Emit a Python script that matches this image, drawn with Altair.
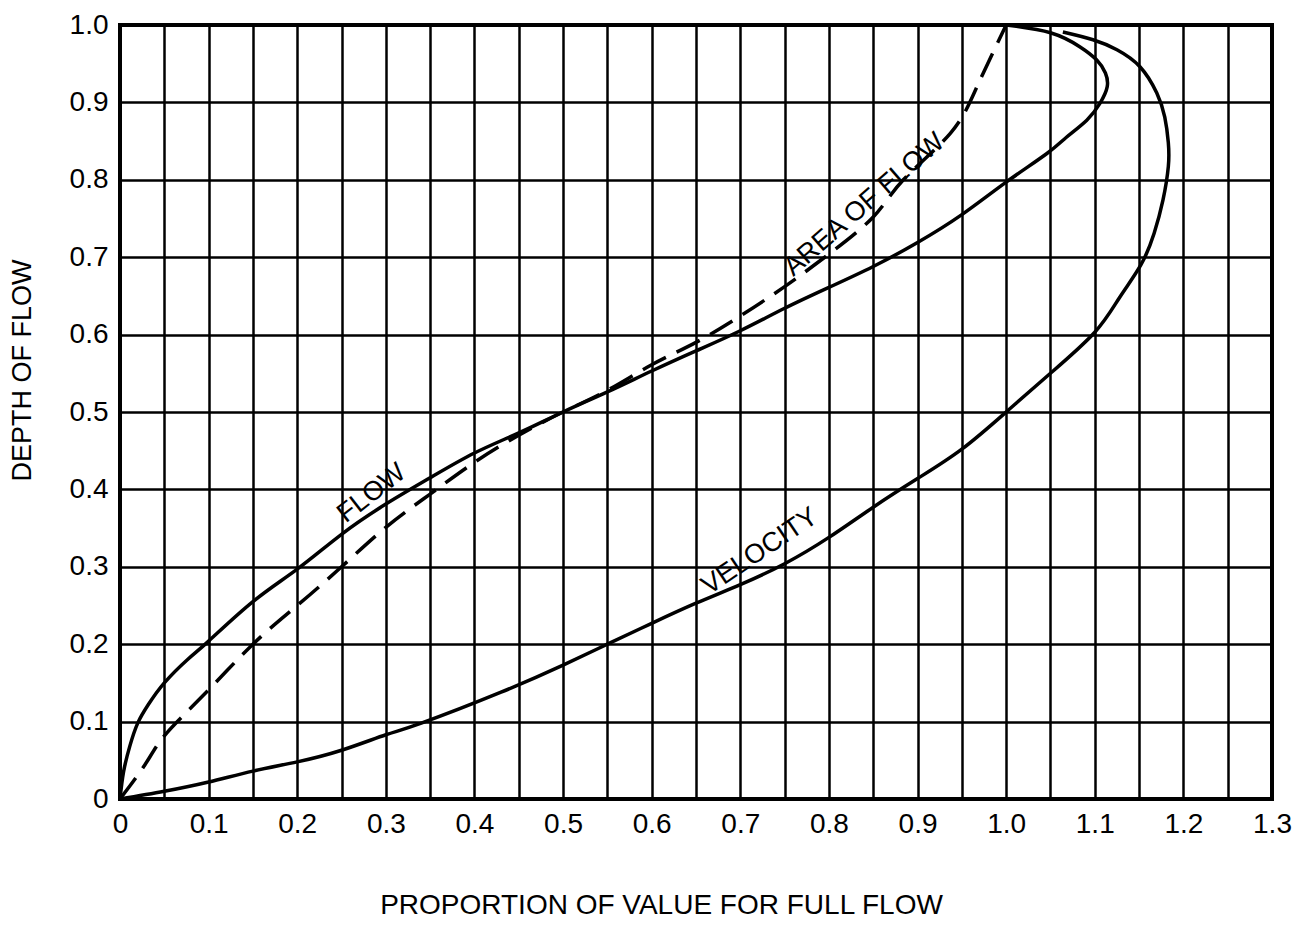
import altair as alt
import pandas as pd

# ---- data ----
vel_x = [0.0, 0.05, 0.10, 0.15, 0.20, 0.25, 0.30, 0.34, 0.43, 0.50, 0.55, 0.60, 0.65, 0.70,
         0.75, 0.80, 0.85, 0.90, 0.95, 1.00, 1.05, 1.10, 1.128, 1.152, 1.167, 1.177, 1.183,
         1.183, 1.179, 1.170, 1.151, 1.125, 1.098, 1.064]
vel_y = [0.0, 0.010, 0.022, 0.036, 0.048, 0.063, 0.083, 0.098, 0.138, 0.173, 0.200, 0.227, 0.253, 0.277,
         0.304, 0.338, 0.377, 0.414, 0.452, 0.500, 0.550, 0.603, 0.648, 0.690, 0.731, 0.774, 0.817,
         0.848, 0.881, 0.912, 0.946, 0.968, 0.981, 0.991]

flow_x = [0.0, 0.004, 0.011, 0.020, 0.032, 0.050, 0.076, 0.10, 0.15, 0.20, 0.25, 0.30, 0.35, 0.40,
          0.45, 0.50, 0.55, 0.60, 0.65, 0.70, 0.75, 0.80, 0.85, 0.90, 0.95, 1.00, 1.046, 1.068,
          1.091, 1.106, 1.114, 1.112, 1.102, 1.083, 1.05, 1.0]
flow_y = [0.0, 0.035, 0.068, 0.098, 0.122, 0.150, 0.180, 0.204, 0.255, 0.297, 0.342, 0.381, 0.415, 0.447,
          0.473, 0.500, 0.526, 0.553, 0.579, 0.605, 0.634, 0.661, 0.688, 0.719, 0.755, 0.797, 0.834, 0.855,
          0.877, 0.899, 0.920, 0.938, 0.955, 0.972, 0.990, 1.0]

area_x = [0.0, 0.028, 0.051, 0.094, 0.15, 0.20, 0.25, 0.30, 0.35, 0.40, 0.45, 0.50, 0.55, 0.60,
          0.65, 0.70, 0.75, 0.80, 0.85, 0.884, 0.937, 0.967, 1.0]
area_y = [0.0, 0.044, 0.083, 0.134, 0.200, 0.250, 0.300, 0.351, 0.394, 0.435, 0.470, 0.500, 0.528, 0.561,
          0.590, 0.624, 0.662, 0.704, 0.752, 0.800, 0.860, 0.920, 1.0]

label_text = ["FLOW", "AREA OF FLOW", "VELOCITY"]
label_x = [0.284, 0.840, 0.722]
label_y = [0.395, 0.768, 0.320]
label_angle = [322, 319, 326]

x_ticks = [round(i * 0.05, 2) for i in range(27)]
y_ticks = [round(i * 0.05, 2) for i in range(21)]

rows = []
for name, xs, ys in [("velocity", vel_x, vel_y), ("flow", flow_x, flow_y)]:
    for i, (a, b) in enumerate(zip(xs, ys)):
        rows.append({"series": name, "x": a, "y": b, "i": i})
solid = pd.DataFrame(rows)
dashed = pd.DataFrame({"x": area_x, "y": area_y, "i": list(range(len(area_x)))})
labels = pd.DataFrame({"text": label_text, "x": label_x, "y": label_y, "angle": label_angle})

FONT = "Liberation Sans"
label_expr = ("(round(datum.value*100) % 10 == 0) ? "
              "(datum.value == 0 ? '0' : format(datum.value, '.1f')) : ''")

x_scale = alt.Scale(domain=[0, 1.3], nice=False, zero=False)
y_scale = alt.Scale(domain=[0, 1.0], nice=False, zero=False)

x_axis = alt.Axis(values=x_ticks, labelExpr=label_expr, grid=True, ticks=False, domain=False,
                  labelFlush=False, labelOverlap=False, labelFont=FONT, labelFontSize=28,
                  labelColor="black", labelPadding=11,
                  gridColor="black", gridWidth=2.5, gridOpacity=1,
                  title="PROPORTION OF VALUE FOR FULL FLOW", titleFont=FONT, titleFontSize=28,
                  titleFontWeight="normal", titleColor="black",
                  titleX=541, titleY=106, titleAlign="center", titleBaseline="middle")
y_axis = alt.Axis(values=y_ticks, labelExpr=label_expr, grid=True, ticks=False, domain=False,
                  labelFlush=False, labelOverlap=False, labelFont=FONT, labelFontSize=28,
                  labelColor="black", labelPadding=12,
                  gridColor="black", gridWidth=2.5, gridOpacity=1,
                  title="DEPTH OF FLOW", titleFont=FONT, titleFontSize=27,
                  titleFontWeight="normal", titleColor="black",
                  titleX=-98, titleY=345, titleAlign="center", titleBaseline="middle", titleAngle=270)

solid_lines = alt.Chart(solid).mark_line(color="black", strokeWidth=3.5,
                                         interpolate="natural").encode(
    x=alt.X("x:Q", scale=x_scale, axis=x_axis),
    y=alt.Y("y:Q", scale=y_scale, axis=y_axis),
    detail="series:N",
    order="i:Q",
)

dashed_line = alt.Chart(dashed).mark_line(color="black", strokeWidth=3.5, strokeDash=[26, 12],
                                          interpolate="natural").encode(
    x=alt.X("x:Q", scale=x_scale),
    y=alt.Y("y:Q", scale=y_scale),
    order="i:Q",
)

text = alt.Chart(labels).mark_text(font=FONT, fontSize=27, color="black",
                                   align="center", baseline="middle").encode(
    x=alt.X("x:Q", scale=x_scale),
    y=alt.Y("y:Q", scale=y_scale),
    text="text:N",
    angle=alt.Angle("angle:Q", scale=None),
)

chart = alt.layer(solid_lines, dashed_line, text).properties(
    width=1152, height=774,
    autosize=alt.AutoSizeParams(type="none"),
    padding={"left": 112, "top": 17, "right": 35, "bottom": 136},
    background="white",
).configure_view(stroke="black", strokeWidth=4)

chart.save("out.html", embed_options={"renderer": "svg", "actions": False})
